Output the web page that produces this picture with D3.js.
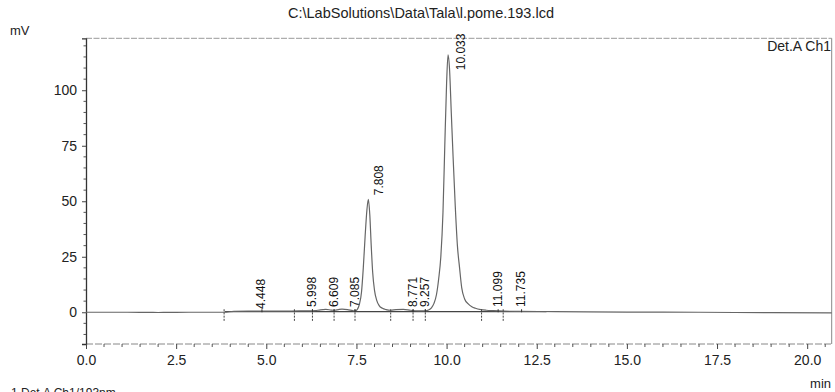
<!DOCTYPE html>
<html><head><meta charset="utf-8">
<script src="https://cdn.jsdelivr.net/npm/d3@7"></script>
<style>body{margin:0;background:#fff}svg{display:block;font-family:"Liberation Sans",Arial,sans-serif}</style>
</head><body><svg id="c" width="835" height="392"></svg>
<script>
const title = "C:\\LabSolutions\\Data\\Tala\\l.pome.193.lcd";
const xTicks = [0, 2.5, 5, 7.5, 10, 12.5, 15, 17.5, 20];
const yTicks = [0, 25, 50, 75, 100];
// chromatogram trace [min, mV]
const trace = [[0,0],[1,0],[2,-0.1],[3,0],[3.8,0],[3.9,0.1],[4.1,0.4],[4.5,0.5],[5,0.5],[5.5,0.5],[5.9,0.6],[6.2,0.6],[6.35,0.7],[6.5,1.1],[6.65,1.3],[6.8,1.0],[6.9,0.9],[7.0,1.2],[7.1,1.4],[7.25,1.2],[7.4,0.7],[7.46,0.6],[7.52,1.2],[7.58,3.5],[7.64,9],[7.69,20],[7.74,34],[7.79,46],[7.83,50.9],[7.87,44],[7.91,30],[7.95,18],[8.0,10],[8.06,5.5],[8.13,3],[8.22,1.8],[8.32,1.2],[8.45,0.9],[8.6,1.2],[8.8,1.3],[9.0,0.9],[9.2,0.6],[9.4,0.6],[9.5,1.0],[9.58,2.0],[9.65,4],[9.72,8],[9.78,15],[9.84,25],[9.9,45],[9.95,75],[10.0,103],[10.04,115.9],[10.08,110],[10.13,90],[10.18,70],[10.24,48],[10.3,30],[10.36,20],[10.42,11],[10.5,6],[10.6,3.8],[10.7,2.5],[10.8,1.8],[10.95,1.2],[11.1,0.9],[11.3,0.7],[11.6,0.5],[12,0.4],[13,0.3],[15,0.1],[17,0],[19,-0.2],[20.68,-0.3]];
const baseline = [[3.85,0.3],[12.77,0.3]];
// integration markers (min)
const markers = [3.83, 5.78, 6.28, 6.88, 7.46, 8.45, 9.07, 9.41, 10.97, 11.57];
// peak labels: text, position of label (min), label bottom (mV)
const peakNames = ["4.448","5.998","6.609","7.085","7.808","8.771","9.257","10.033","11.099","11.735"];
const peakPos   = [4.88, 6.28, 6.88, 7.46, 8.13, 9.07, 9.41, 10.40, 11.43, 12.08];
const peakBase  = [1.5, 2.4, 2.4, 2.4, 52.7, 2.4, 2.4, 109, 2.4, 2.4];
const smallPeak = [true,true,true,true,false,true,true,false,true,true];

const svg = d3.select("#c");
const L = 86, T = 38.3, R = 831.7, B = 344;
const x = d3.scaleLinear().domain([0, 20.68]).range([L, R]);
const y = d3.scaleLinear().domain([-14.3, 123.4]).range([B, T]);

// title
svg.append("text").attr("x", 421).attr("y", 18).attr("text-anchor","middle")
  .attr("font-size", 14.5).attr("fill","#222").text(title);
svg.append("text").attr("x", 10).attr("y", 35).attr("font-size", 13).attr("fill","#222").text("mV");
svg.append("text").attr("x", 831).attr("y", 51).attr("text-anchor","end").attr("font-size", 14).attr("fill","#222").text("Det.A Ch1");
svg.append("text").attr("x", 831).attr("y", 388).attr("text-anchor","end").attr("font-size", 13).attr("fill","#222").text("min");
svg.append("text").attr("x", 11).attr("y", 397).attr("font-size", 12).attr("fill","#222").text("1 Det.A Ch1/193nm");

// frame
svg.append("line").attr("x1",L).attr("x2",R).attr("y1",T).attr("y2",T).attr("stroke","#999").attr("stroke-dasharray","6,1.5");
svg.append("line").attr("x1",R).attr("x2",R).attr("y1",T).attr("y2",B).attr("stroke","#888");
svg.append("line").attr("x1",L).attr("x2",R).attr("y1",B).attr("y2",B).attr("stroke","#888").attr("stroke-dasharray","7,2");

// y axis
const ya = svg.append("g").attr("transform",`translate(${L},0)`)
  .call(d3.axisLeft(y).tickValues(yTicks).tickSize(4).tickPadding(5).tickFormat(d3.format("d")));
ya.select(".domain").attr("stroke","#333").attr("stroke-width",1.3);
ya.selectAll(".tick line").attr("stroke","#444");
ya.selectAll("text").attr("font-size",14).attr("fill","#222").attr("font-family","Liberation Sans,Arial,sans-serif");
const yMinor = d3.range(-10, 121, 5).filter(v => v % 25 !== 0);
svg.append("g").selectAll("line").data(yMinor).join("line")
  .attr("x1",L-2.5).attr("x2",L).attr("y1",d=>y(d)).attr("y2",d=>y(d)).attr("stroke","#555");

// x axis
const xa = svg.append("g").attr("transform",`translate(0,${B})`)
  .call(d3.axisBottom(x).tickValues(xTicks).tickSize(5).tickPadding(6).tickFormat(d3.format(".1f")));
xa.select(".domain").remove();
xa.selectAll(".tick line").attr("stroke","#444");
xa.selectAll("text").attr("font-size",14).attr("fill","#222").attr("font-family","Liberation Sans,Arial,sans-serif");
const xMinor = d3.range(0.5, 20.6, 0.5).filter(v => v % 2.5 !== 0);
svg.append("g").selectAll("line").data(xMinor).join("line")
  .attr("x1",d=>x(d)).attr("x2",d=>x(d)).attr("y1",B).attr("y2",B+3).attr("stroke","#555");

// baseline (detected)
const line = d3.line().x(d=>x(d[0])).y(d=>y(d[1]));
svg.append("path").datum(baseline).attr("d", line).attr("fill","none").attr("stroke","#444").attr("stroke-width",1.1);

// trace
svg.append("path").datum(trace).attr("d", line.curve(d3.curveMonotoneX))
  .attr("fill","none").attr("stroke","#666").attr("stroke-width",1.2);

// markers
svg.append("g").selectAll("line").data(markers).join("line")
  .attr("x1",d=>x(d)).attr("x2",d=>x(d)).attr("y1",d=>y(0)-3).attr("y2",d=>y(0)+9)
  .attr("stroke","#444").attr("stroke-dasharray","2,1.2");

// peak labels
const pk = peakNames.map((n,i)=>({n, p:peakPos[i], b:peakBase[i], s:smallPeak[i]}));
svg.append("g").selectAll("line").data(pk.filter(d=>d.s)).join("line")
  .attr("x1",d=>x(d.p)).attr("x2",d=>x(d.p)).attr("y1",y(0)).attr("y2",y(0)-3).attr("stroke","#333");
svg.append("g").selectAll("text").data(pk).join("text")
  .attr("transform", d=>`translate(${x(d.p)+3.5},${y(d.b)}) rotate(-90)`)
  .attr("font-size", 12).attr("fill","#111").text(d=>d.n);
</script></body></html>
